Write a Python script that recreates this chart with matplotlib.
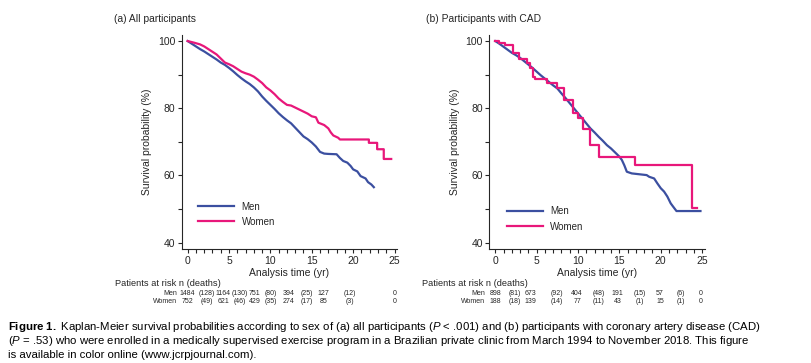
import matplotlib
matplotlib.use('Agg')
import matplotlib.pyplot as plt
import matplotlib.transforms as mtransforms
from matplotlib.ticker import MultipleLocator

plt.rcParams['font.family'] = ['Liberation Sans', 'DejaVu Sans']
plt.rcParams['mathtext.fontset'] = 'custom'
plt.rcParams['mathtext.rm'] = 'Liberation Sans'
plt.rcParams['mathtext.it'] = 'Liberation Sans:italic'
plt.rcParams['mathtext.bf'] = 'Liberation Sans:bold'

BLUE = '#3B4FA0'
PINK = '#E8177A'
INK = '#262626'

# (a) all participants - Kaplan-Meier estimates (years, %)
a_men_t = [0, 0.5, 1, 1.5, 2, 2.5, 3, 3.5, 4, 4.5, 5, 5.5, 6, 6.5, 7, 7.5, 8, 8.5, 9, 9.5,
           10, 10.5, 11, 11.5, 12, 12.5, 13, 13.5, 14, 14.5, 15, 15.5, 16, 16.5, 17, 18,
           18.4, 18.8, 19.3, 19.7, 20, 20.5, 20.9, 21.5, 21.8, 22.2, 22.5]
a_men_s = [100, 99.2, 98.4, 97.6, 96.9, 96.1, 95.3, 94.5, 93.6, 92.9, 92.0, 91.0, 89.9, 88.9,
           88.0, 87.2, 86.2, 85.0, 83.5, 82.2, 81.0, 79.8, 78.5, 77.4, 76.4, 75.5, 74.2, 72.9,
           71.6, 70.8, 69.8, 68.6, 67.0, 66.5, 66.4, 66.3, 65.2, 64.3, 63.8, 62.8, 61.8, 61.2,
           59.8, 59.1, 58.0, 57.3, 56.5]
a_wom_t = [0, 0.8, 1.5, 2, 2.5, 3, 3.5, 4, 4.5, 5, 5.5, 6, 6.5, 7, 7.5, 8, 8.5, 9, 9.5, 10,
           10.5, 11, 11.5, 12, 12.5, 13, 13.5, 14, 14.5, 15, 15.5, 15.8, 16.5, 17, 17.3, 17.6,
           18.2, 18.4, 21.9, 21.9, 22.9, 22.9, 23.7, 23.7, 24.6]
a_wom_s = [100, 99.5, 99.0, 98.4, 97.6, 96.8, 96.0, 94.8, 93.6, 93.1, 92.5, 91.7, 90.9, 90.4,
           90.0, 89.4, 88.5, 87.5, 86.2, 85.3, 84.2, 82.9, 81.9, 81.0, 80.8, 80.2, 79.6, 79.0,
           78.4, 77.6, 77.3, 75.7, 75.0, 74.0, 72.8, 71.9, 71.2, 70.7, 70.7, 69.7, 69.7, 67.8,
           67.8, 64.9, 64.9]

# (b) participants with CAD
b_men_t = [0, 0.5, 1, 1.5, 2, 2.5, 3, 3.5, 4, 4.5, 5, 5.5, 6, 6.5, 7, 7.5, 8, 8.5, 9, 9.5,
           10, 10.5, 11, 11.5, 12, 12.5, 13, 13.5, 14, 14.5, 15, 15.3, 15.6, 15.9, 16.5, 18.3,
           18.6, 19.2, 19.6, 20.0, 20.4, 20.8, 21.2, 21.5, 21.9, 24.8]
b_men_s = [100, 99.2, 98.3, 97.4, 96.5, 95.8, 95.0, 94.0, 93.0, 92.0, 90.9, 89.8, 88.8, 87.8,
           86.8, 85.9, 84.4, 83.0, 81.5, 80.0, 78.5, 77.0, 75.5, 74.0, 72.8, 71.5, 70.3, 69.0,
           68.0, 66.8, 65.6, 64.6, 63.0, 61.1, 60.6, 60.1, 59.6, 59.1, 57.6, 56.2, 55.2, 53.7,
           51.7, 50.7, 49.4, 49.4]
b_wom_t = [0, 0.4, 1.2, 2.2, 2.9, 3.8, 4.2, 4.6, 4.8, 6.3, 7.5, 8.3, 9.4, 10.0, 10.6, 11.5,
           12.5, 16.9, 23.8, 24.4]
b_wom_s = [100, 99.4, 98.8, 96.3, 94.8, 93.4, 91.9, 89.4, 88.6, 87.6, 85.9, 82.6, 78.5, 77.0,
           73.7, 69.1, 65.6, 63.1, 50.2, 50.2]

# patients at risk (deaths)
a_men_risk = [1484, 1164, 751, 394, 127, 0]
a_men_deaths = [128, 130, 80, 25, 12]
a_wom_risk = [752, 621, 429, 274, 85, 0]
a_wom_deaths = [49, 46, 35, 17, 3]
b_men_risk = [898, 673, 404, 191, 57, 0]
b_men_deaths = [81, 92, 48, 15, 6]
b_wom_risk = [188, 139, 77, 43, 15, 0]
b_wom_deaths = [18, 14, 11, 1, 1]

# column positions (years) of the risk table as printed
a_cols = [0, 2.3, 4.3, 6.3, 8.1, 10.0, 12.2, 14.4, 16.4, 19.6, 25.0]
b_cols = [0, 2.4, 4.3, 7.4, 9.9, 12.5, 14.8, 17.5, 19.9, 22.4, 24.8]

W, H = 812, 363
fig = plt.figure(figsize=(W / 100, H / 100), dpi=100)


def fx(px):
    return px / W


def fy(py):
    return 1 - py / H


def table_row(risk, deaths):
    row = []
    for i, r in enumerate(risk):
        row.append(str(r))
        if i < len(deaths):
            row.append('(%d)' % deaths[i])
    return row


panels = [
    dict(left=181.7, title='(a) All participants', title_x=114,
         men=(a_men_t, a_men_s), wom=(a_wom_t, a_wom_s), wom_step=False,
         rows=[('Men', table_row(a_men_risk, a_men_deaths)),
               ('Women', table_row(a_wom_risk, a_wom_deaths))],
         cols=a_cols, legend_xy=(198.3, 201.5), risk_x=115),
    dict(left=489.3, title='(b) Participants with CAD', title_x=426,
         men=(b_men_t, b_men_s), wom=(b_wom_t, b_wom_s), wom_step=True,
         rows=[('Men', table_row(b_men_risk, b_men_deaths)),
               ('Women', table_row(b_wom_risk, b_wom_deaths))],
         cols=b_cols, legend_xy=(506.7, 206.5), risk_x=422),
]

for p in panels:
    ax = fig.add_axes([fx(p['left']), fy(249), fx(215.3), 214 / H])
    ax.plot(p['men'][0], p['men'][1], color=BLUE, lw=1.6, label='Men')
    ax.plot(p['wom'][0], p['wom'][1], color=PINK, lw=1.6, label='Women',
            drawstyle='steps-post' if p['wom_step'] else 'default')
    ax.set_xlim(-0.72, 25.3)
    ax.set_ylim(38.1, 101.8)
    ax.xaxis.set_major_locator(MultipleLocator(5))
    ax.xaxis.set_minor_locator(MultipleLocator(1))
    ax.yaxis.set_major_locator(MultipleLocator(20))
    ax.yaxis.set_minor_locator(MultipleLocator(10))
    ax.spines['top'].set_visible(False)
    ax.spines['right'].set_visible(False)
    for s in ('left', 'bottom'):
        ax.spines[s].set_linewidth(0.8)
        ax.spines[s].set_color(INK)
    ax.tick_params(which='both', direction='out', length=3.2, width=0.8, color=INK,
                   labelsize=7.5, labelcolor=INK)
    ax.tick_params(axis='y', pad=1.5)
    ax.tick_params(axis='x', pad=2)
    ax.set_ylabel('Survival probability (%)', fontsize=7.5, color=INK, labelpad=4)
    ax.set_xlabel('Analysis time (yr)', fontsize=7.5, color=INK, labelpad=1)
    lx, ly = p['legend_xy']
    ax.legend(loc='upper left', bbox_to_anchor=(fx(lx), fy(ly)),
              bbox_transform=fig.transFigure, frameon=False, fontsize=7,
              handlelength=3.7, handletextpad=0.75, labelspacing=0.55,
              borderpad=0, borderaxespad=0, labelcolor=INK)

    fig.text(fx(p['title_x']), fy(19), p['title'], fontsize=7.4, color=INK,
             va='center', ha='left')
    fig.text(fx(p['risk_x']), fy(283.5), 'Patients at risk n (deaths)', fontsize=6.7,
             color=INK, va='center', ha='left')

    tr = mtransforms.blended_transform_factory(ax.transData, fig.transFigure)
    for (name, cells), py in zip(p['rows'], [293.3, 301.5]):
        ax.text(-1.25, fy(py), name, transform=tr, fontsize=5, color=INK,
                ha='right', va='center', clip_on=False)
        for xc, cell in zip(p['cols'], cells):
            ax.text(xc, fy(py), cell, transform=tr, fontsize=5, color=INK,
                    ha='center', va='center', clip_on=False)

caption = [
    r'$\mathbf{Figure\ 1.}$ Kaplan-Meier survival probabilities according to sex of (a) all '
    r'participants ($\mathit{P}$ < .001) and (b) participants with coronary artery disease (CAD)',
    r'($\mathit{P}$ = .53) who were enrolled in a medically supervised exercise program in a '
    r'Brazilian private clinic from March 1994 to November 2018. This figure',
    'is available in color online (www.jcrpjournal.com).',
]
for line, py in zip(caption, [327, 341, 354.5]):
    fig.text(fx(8), fy(py), line, fontsize=8.2, color='black', va='center', ha='left')

fig.savefig('out.png', dpi=100)
